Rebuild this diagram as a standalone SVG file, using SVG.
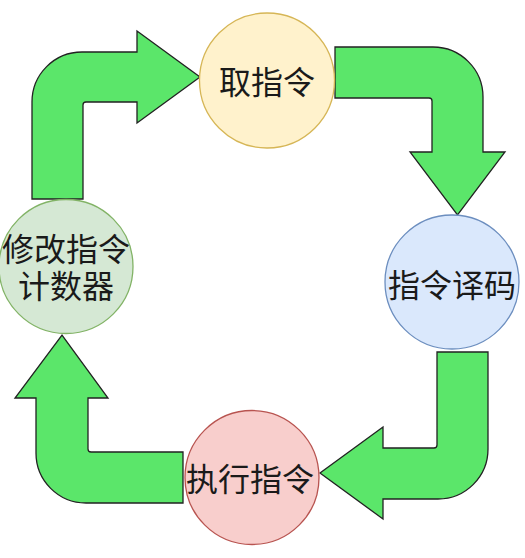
<svg xmlns="http://www.w3.org/2000/svg" width="525" height="558" viewBox="0 0 525 558">
<style>
.arrow{fill:#5be66a;stroke:#222;stroke-width:1.3;stroke-linejoin:miter}
.lbl{font-family:"Noto Sans CJK SC","Noto Sans",sans-serif;font-size:32px;fill:#1a1a1a;text-anchor:middle;dominant-baseline:central}
</style>
<rect width="525" height="558" fill="#ffffff"/>
<g id="connectors">
<path class="arrow" d="M32,199 L32,102 A50,50 0 0 1 82,52 L137,52 L137,31 L200,77 L137,123 L137,102 L86,102 A3,3 0 0 0 83,105 L83,199 Z"/>
<path class="arrow" d="M335,47 L433,47 A50,50 0 0 1 483,97 L483,152 L505,152 L457.5,215 L410,152 L432,152 L432,101 A3,3 0 0 0 429,98 L335,98 Z"/>
<path class="arrow" d="M437,352 L488,352 L488,449 A50,50 0 0 1 438,499 L383,499 L383,519 L320,473 L383,427 L383,448 L434,448 A3,3 0 0 0 437,445 Z"/>
<path class="arrow" d="M183,452 L91,452 A3,3 0 0 1 88,449 L88,398 L108,398 L62,335 L15,398 L36,398 L36,453 A50,50 0 0 0 86,503 L183,503 Z"/>
</g>
<g id="fetch">
<circle cx="267" cy="80.5" r="67.5" fill="#fff2cc" stroke="#d6b656" stroke-width="1.3"/>
<text class="lbl" x="267" y="80">取指令</text>
</g>
<g id="decode">
<circle cx="452" cy="282" r="67" fill="#dae8fc" stroke="#6c8ebf" stroke-width="1.3"/>
<text class="lbl" x="452" y="283">指令译码</text>
</g>
<g id="execute">
<circle cx="252" cy="477.5" r="67" fill="#f8cecc" stroke="#b85450" stroke-width="1.3"/>
<text class="lbl" x="250" y="477">执行指令</text>
</g>
<g id="update-pc">
<circle cx="66" cy="266.5" r="67" fill="#d5e8d4" stroke="#82b366" stroke-width="1.3"/>
<text class="lbl" x="66" y="247"><tspan x="66" y="247">修改指令</tspan><tspan x="66" y="284">计数器</tspan></text>
</g>
</svg>
